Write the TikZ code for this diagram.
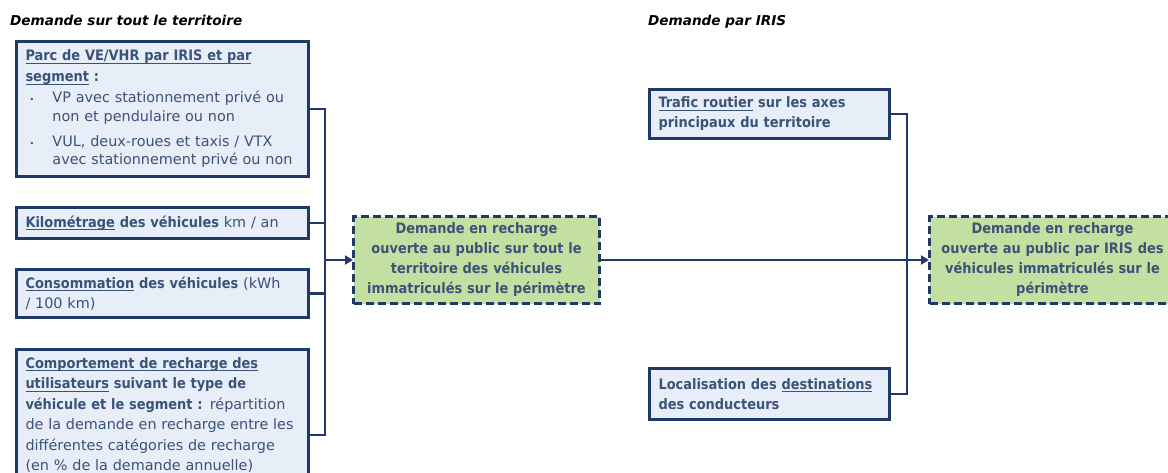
\documentclass[tikz,border=0pt]{standalone}
\usepackage{fontspec}
\setmainfont{DejaVu Sans}[BoldFont={DejaVu Sans Condensed Bold}, ItalicFont={DejaVu Sans Oblique}, BoldItalicFont={DejaVu Sans Bold Oblique}]
\usetikzlibrary{arrows.meta}
\definecolor{navy}{HTML}{1F3A66}
\definecolor{boxfill}{HTML}{E8EEF8}
\definecolor{txt}{HTML}{3A5378}
\definecolor{greenfill}{HTML}{C4DFA2}
\newsavebox\myulbox
\newcommand\ulx[1]{\sbox\myulbox{#1}\rlap{\rule[-3pt]{\wd\myulbox}{1.1pt}}\usebox\myulbox}
\tikzset{
  infobox/.style={draw=navy, line width=3pt, fill=boxfill, rectangle, anchor=north west,
    inner xsep=9pt, inner ysep=4pt, align=left, text=txt,
    font=\fontsize{14.4}{20}\selectfont},
  resbox/.style={draw=navy, line width=3pt, dash pattern=on 8pt off 4pt, fill=greenfill,
    rectangle, anchor=north west, align=center, text=txt, inner sep=2pt,
    font=\fontsize{14.4}{20}\selectfont\bfseries},
  conn/.style={draw=navy, line width=2.6pt},
  arr/.style={conn, -{Triangle[length=8pt,width=9pt]}, shorten >=-1pt},
  title/.style={anchor=west, font=\fontsize{13.6}{16}\selectfont\bfseries\itshape, text=black, inner sep=0pt}
}
\begin{document}
\begin{tikzpicture}[x=1pt,y=-1pt]
\useasboundingbox (0,0) rectangle (1168,472);
\node[title] (t1) at (10,20) {Demande sur tout le territoire};
\node[title] (t2) at (648,22) {Demande par IRIS};

\node[infobox, minimum width=290pt, minimum height=135pt, text width=274pt] (b1) at (15,40)
 {\textbf{\ulx{Parc de VE/VHR par IRIS et par}}\\[1pt]
  \textbf{\ulx{segment} :}\\[1pt]
  \hspace*{4pt}\makebox[23pt][l]{\footnotesize\textbullet}VP avec stationnement privé ou\\[-1.5pt]
  \hspace*{27pt}non et pendulaire ou non\\[5pt]
  \hspace*{4pt}\makebox[23pt][l]{\footnotesize\textbullet}VUL, deux-roues et taxis / VTX\\[-1.5pt]
  \hspace*{27pt}avec stationnement privé ou non};

\node[infobox, minimum width=290pt, minimum height=31pt, text width=274pt] (b2) at (15,206)
 {\textbf{\ulx{Kilométrage} des véhicules} km / an};

\node[infobox, minimum width=290pt, minimum height=48pt, text width=274pt] (b3) at (15,268)
 {\textbf{\ulx{Consommation} des véhicules} (kWh\\ / 100 km)};

\node[infobox, minimum width=290pt, minimum height=130pt, text width=274pt, inner ysep=8pt,
      font=\fontsize{14.4}{20.4}\selectfont] (b4) at (15,348)
 {\textbf{\ulx{Comportement de recharge des}}\\
  \textbf{\ulx{utilisateurs} suivant le type de}\\
  \textbf{véhicule et le segment :} répartition\\
  de la demande en recharge entre les\\
  différentes catégories de recharge\\
  (en \% de la demande annuelle)\\[22pt]\mbox{}};

\node[infobox, minimum width=238pt, minimum height=49pt, text width=222pt] (b5) at (648,88)
 {\textbf{\ulx{Trafic routier} sur les axes}\\ \textbf{principaux du territoire}};

\node[infobox, minimum width=238pt, minimum height=51pt, text width=222pt] (b6) at (648,367)
 {\textbf{Localisation des \ulx{destinations}}\\ \textbf{des conducteurs}};

\node[resbox, minimum width=246pt, minimum height=87pt, text width=240pt] (g1) at (352,215)
 {Demande en recharge\\ ouverte au public sur tout le\\ territoire des véhicules\\ immatriculés sur le périmètre};

\node[resbox, minimum width=246pt, minimum height=87pt, text width=240pt] (g2) at (928,215)
 {Demande en recharge\\ ouverte au public par IRIS des\\ véhicules immatriculés sur le\\ périmètre};

\path (g1.west) ++(-27,0) coordinate (j1);
\path (g2.west) ++(-21,0) coordinate (j2);
\draw[conn] (b1.east) -| (j1);
\draw[conn] (b4.east) -| (j1);
\draw[conn] (b2.east) -- (b2.east -| j1);
\draw[conn] (b3.east) -- (b3.east -| j1);
\draw[arr] ([xshift=-1.3pt]j1) -- (g1.west);
\draw[conn] (b5.east) -| (j2);
\draw[conn] (b6.east) -| (j2);
\draw[arr] (g1.east) -- (g2.west);
\end{tikzpicture}
\end{document}
